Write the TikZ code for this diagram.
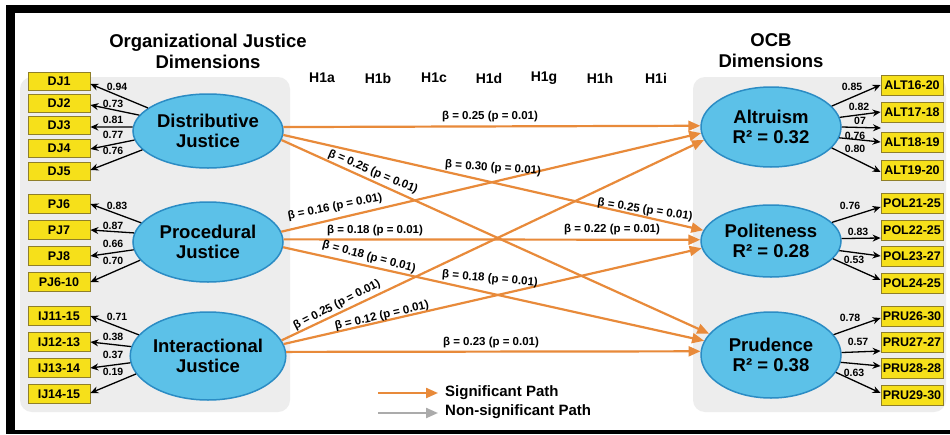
\documentclass[tikz,border=0pt]{standalone}
\usepackage{fontspec}
\setmainfont{Liberation Sans}
\usetikzlibrary{shapes.geometric,arrows.meta,calc}

\definecolor{panelgray}{HTML}{EDEDED}
\definecolor{boxyellow}{HTML}{F6E01A}
\definecolor{boxedge}{HTML}{8F7F2A}
\definecolor{ellfill}{HTML}{5CC1E8}
\definecolor{elledge}{HTML}{2B8CC4}
\definecolor{sigorange}{HTML}{E88A3A}
\definecolor{nsgray}{HTML}{ABABAB}

\begin{document}
\begin{tikzpicture}[x=1pt,y=-1pt,
  panel/.style={fill=panelgray, rounded corners=12pt},
  itembox/.style={draw=boxedge, line width=0.8pt, fill=boxyellow, minimum width=62pt, minimum height=19pt, inner sep=0pt, font=\fontsize{12.5}{12.5}\selectfont\bfseries},
  latent/.style={ellipse, draw=elledge, line width=1.5pt, fill=ellfill, inner sep=0pt, align=center, font=\fontsize{18.5}{20.5}\selectfont\bfseries},
  sig/.style={draw=sigorange, line width=2.2pt, -{Triangle[length=12pt,width=10pt]}},
  nsig/.style={draw=nsgray, line width=2.2pt, -{Triangle[length=12pt,width=10pt]}},
  load/.style={draw=black, line width=1.3pt, -{Stealth[length=8pt,width=7pt]}},
  lw/.style={font=\fontsize{10.5}{11}\selectfont\bfseries, inner sep=1pt},
  betalab/.style={font=\fontsize{11.5}{12}\selectfont\bfseries, inner sep=1pt},
  titletext/.style={font=\fontsize{18.5}{21}\selectfont\bfseries, align=center},
  hyp/.style={font=\fontsize{14}{14}\selectfont\bfseries},
  legtext/.style={font=\fontsize{15}{15}\selectfont\bfseries, anchor=west, inner sep=0pt}
]
\useasboundingbox (0,0) rectangle (950,434);
\fill[white] (0,0) rectangle (950,434);
% frame
\fill[black] (6,5) rectangle (950,13);
\fill[black] (6,5) rectangle (15,434);
\fill[black] (6,430) rectangle (950,434);
% panels
\fill[panel] (20,77) rectangle (290,412);
\fill[panel] (693,77) rectangle (946,412);

% titles
\node[titletext] (t1) at (208,51) {Organizational Justice\\Dimensions};
\node[titletext] (t2) at (771,51) {OCB\\Dimensions};

% hypotheses
\node[hyp] (h1) at (322,78) {H1a};
\node[hyp] (h2) at (378,78) {H1b};
\node[hyp] (h3) at (434,78) {H1c};
\node[hyp] (h4) at (489,78) {H1d};
\node[hyp] (h5) at (544,78) {H1g};
\node[hyp] (h6) at (600,78) {H1h};
\node[hyp] (h7) at (656,78) {H1i};

% latent variables
\node[latent, minimum width=150pt, minimum height=74pt] (dj) at (208,131) {Distributive\\Justice};
\node[latent, minimum width=150pt, minimum height=80pt] (pj) at (208,242) {Procedural\\Justice};
\node[latent, minimum width=150pt, minimum height=88pt] (ij) at (208,356) {Interactional\\Justice};
\node[latent, minimum width=140pt, minimum height=80pt] (alt) at (771,127) {Altruism\\R² = 0.32};
\node[latent, minimum width=140pt, minimum height=72pt] (pol) at (771,241) {Politeness\\R² = 0.28};
\node[latent, minimum width=140pt, minimum height=86pt] (pru) at (771,355) {Prudence\\R² = 0.38};

% left indicators
\node[itembox, minimum height=18pt] (dj1) at (59,81) {DJ1};
\node[itembox, minimum height=18pt] (dj2) at (59,103) {DJ2};
\node[itembox, minimum height=18pt] (dj3) at (59,125) {DJ3};
\node[itembox, minimum height=18pt] (dj4) at (59,148) {DJ4};
\node[itembox, minimum height=18pt] (dj5) at (59,171) {DJ5};
\node[itembox] (pj6) at (59,204) {PJ6};
\node[itembox] (pj7) at (59,230) {PJ7};
\node[itembox] (pj8) at (59,256) {PJ8};
\node[itembox] (pj610) at (59,282) {PJ6-10};
\node[itembox] (ija) at (59,316) {IJ11-15};
\node[itembox] (ijb) at (59,342) {IJ12-13};
\node[itembox] (ijc) at (59,368) {IJ13-14};
\node[itembox] (ijd) at (59,394) {IJ14-15};

% right indicators
\node[itembox, minimum height=20pt] (alta) at (912,85) {ALT16-20};
\node[itembox, minimum height=20pt] (altb) at (912,112) {ALT17-18};
\node[itembox, minimum height=20pt] (altc) at (912,142) {ALT18-19};
\node[itembox, minimum height=20pt] (altd) at (912,170) {ALT19-20};
\node[itembox, minimum height=20pt] (pola) at (912,203) {POL21-25};
\node[itembox, minimum height=20pt] (polb) at (912,230) {POL22-25};
\node[itembox, minimum height=20pt] (polc) at (912,256) {POL23-27};
\node[itembox, minimum height=20pt] (pold) at (912,283) {POL24-25};
\node[itembox, minimum height=20pt] (prua) at (912,316) {PRU26-30};
\node[itembox, minimum height=20pt] (prub) at (912,342) {PRU27-27};
\node[itembox, minimum height=20pt] (pruc) at (912,368) {PRU28-28};
\node[itembox, minimum height=20pt] (prud) at (912,395) {PRU29-30};
\coordinate (altgap) at (881,128);

% left loadings
\draw[load] (dj.159) -- ($(dj1.east)+(0,3)$);
\draw[load] (dj.167) -- ($(dj2.east)+(0,2)$);
\draw[load] (dj.177) -- ($(dj3.east)+(0,2)$);
\draw[load] (dj.187) -- ($(dj4.east)+(0,1)$);
\draw[load] (dj.196) -- ($(dj5.east)+(0,-1)$);
\draw[load] (pj.164) -- (pj6.east);
\draw[load] (pj.173) -- (pj7.east);
\draw[load] (pj.186) -- (pj8.east);
\draw[load] (pj.195) -- (pj610.east);
\draw[load] (ij.163) -- (ija.east);
\draw[load] (ij.173) -- (ijb.east);
\draw[load] (ij.185) -- (ijc.east);
\draw[load] (ij.194) -- ($(ijd.east)+(0,-1)$);
\node[lw] (l1) at (117,87) {0.94};
\node[lw] (l2) at (113,104) {0.73};
\node[lw] (l3) at (113,120) {0.81};
\node[lw] (l4) at (113,135) {0.77};
\node[lw] (l5) at (113,151) {0.76};
\node[lw] (l6) at (117,206) {0.83};
\node[lw] (l7) at (113,226) {0.87};
\node[lw] (l8) at (113,244) {0.66};
\node[lw] (l9) at (113,261) {0.70};
\node[lw] (l10) at (117,317) {0.71};
\node[lw] (l11) at (113,337) {0.38};
\node[lw] (l12) at (113,355) {0.37};
\node[lw] (l13) at (113,372) {0.19};

% right loadings
\draw[load] (alt.19) -- (alta.west);
\draw[load] (alt.8) -- (altb.west);
\draw[load] (alt.0) -- (altgap);
\draw[load] (alt.-9) -- (altc.west);
\draw[load] (alt.-19) -- ($(altd.west)+(0,2)$);
\draw[load] (pol.17) -- ($(pola.west)+(0,4)$);
\draw[load] (pol.2) -- ($(polb.west)+(0,8)$);
\draw[load] (pol.-8) -- (polc.west);
\draw[load] (pol.-16) -- ($(pold.west)+(0,-3)$);
\draw[load] (pru.18) -- ($(prua.west)+(0,2)$);
\draw[load] (pru.2) -- ($(prub.west)+(0,9)$);
\draw[load] (pru.-6) -- ($(pruc.west)+(0,-2)$);
\draw[load] (pru.-15) -- ($(prud.west)+(0,-2)$);
\node[lw] (r1) at (852,87) {0.85};
\node[lw] (r2) at (859,107) {0.82};
\node[lw] (r3) at (860,121) {07};
\node[lw] (r4) at (855,136) {0.76};
\node[lw] (r5) at (855,149) {0.80};
\node[lw] (r6) at (850,206) {0.76};
\node[lw] (r7) at (858,232) {0.83};
\node[lw] (r8) at (854,260) {0.53};
\node[lw] (r9) at (850,318) {0.78};
\node[lw] (r10) at (858,342) {0.57};
\node[lw] (r11) at (854,373) {0.63};

% structural paths
\draw[sig] (dj.3) -- (alt.179);
\draw[sig] (dj.-3) -- (pol.171);
\draw[sig] (dj.-7) -- (pru.161);
\draw[sig] (pj.8) -- (alt.185);
\draw[sig] (pj.2) -- (pol.179);
\draw[sig] (pj.-4) -- (pru.168);
\draw[sig] (ij.12) -- (alt.191);
\draw[sig] (ij.9) -- (pol.186);
\draw[sig] (ij.3) -- (pru.177);

% path labels
\node[betalab] (b1) at (490,117) {β = 0.25 (p = 0.01)};
\node[betalab, rotate=-23] (b2) at (373,172) {β = 0.25 (p = 0.01)};
\node[betalab, rotate=-4] (b3) at (493,168) {β = 0.30 (p = 0.01)};
\node[betalab, rotate=11] (b4) at (335,207) {β = 0.16 (p = 0.01)};
\node[betalab, rotate=-9] (b5) at (645,210) {β = 0.25 (p = 0.01)};
\node[betalab] (b6) at (375,231) {β = 0.18 (p = 0.01)};
\node[betalab] (b7) at (612,230) {β = 0.22 (p = 0.01)};
\node[betalab, rotate=-15] (b8) at (369,257) {β = 0.18 (p = 0.01)};
\node[betalab, rotate=-5] (b9) at (490,279) {β = 0.18 (p = 0.01)};
\node[betalab, rotate=27] (b10) at (337,305) {β = 0.25 (p = 0.01)};
\node[betalab, rotate=13] (b11) at (382,316) {β = 0.12 (p = 0.01)};
\node[betalab] (b12) at (491,343) {β = 0.23 (p = 0.01)};

% legend
\coordinate (lga) at (378,393);
\coordinate (lgb) at (438,393);
\coordinate (lgc) at (378,413);
\coordinate (lgd) at (438,413);
\draw[sig] (lga) -- (lgb);
\draw[nsig] (lgc) -- (lgd);
\node[legtext] (lt1) at (445,393) {Significant Path};
\node[legtext] (lt2) at (445,412) {Non-significant Path};
\end{tikzpicture}
\end{document}
